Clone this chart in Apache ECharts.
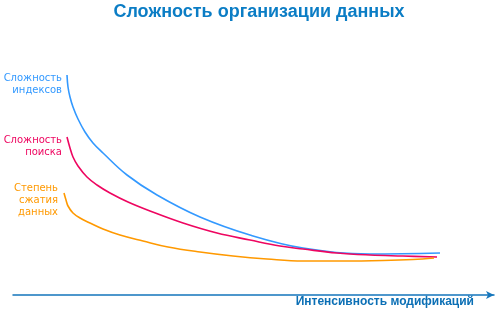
<!DOCTYPE html>
<html><head><meta charset="utf-8">
<script src="https://cdn.jsdelivr.net/npm/echarts@6/dist/echarts.min.js"></script>
<style>html,body{margin:0;padding:0;background:#fff}#c{width:502px;height:312px}</style>
</head><body><div id="c"></div>
<script>
// x: modification intensity (arbitrary units), y: complexity (arbitrary units)
var indexX = [54,55,57,60,65,72,80,90,114,144,187,237,290,357,427];
var indexY = [220,208,198,188,176,163,152,142,120,100,78,60,47,41,42];
var searchX = [54,57,60,65,74,84,97,115,137,170,204,237,267,290,324,357,390,424];
var searchY = [158,147,138,129,118,110,102,93,84,72,62,55,49,46,42,40,39,38];
var compX = [51,53,55,60,67,77,90,107,130,155,187,220,254,290,330,370,400,421];
var compY = [102,95,89,82,77,72,66,60,54,48,43,39,36,34,34,34.5,35.5,37];
var seriesNames = ['Сложность индексов','Сложность поиска','Степень сжатия данных'];
var labelLines = [['Сложность','индексов'],['Сложность','поиска'],['Степень','сжатия','данных']];
var titleText = 'Сложность организации данных';
var axisText = 'Интенсивность модификаций';

function zip(a,b){return a.map(function(v,i){return [v,b[i]];});}
var colors = ['#3399ff','#ee0660','#ff9900'];
var chart = echarts.init(document.getElementById('c'));
var labelPos = [[62,78],[62,140],[58,188]];
var graphics = [
  {type:'text',x:259,y:12,style:{text:titleText,font:'bold 18px "Liberation Sans", Arial',fill:'#0b7dc5',textAlign:'center',textVerticalAlign:'middle'}},
  {type:'text',x:474,y:302,style:{text:axisText,font:'bold 12px "Liberation Sans", Arial',fill:'#0b6fb5',textAlign:'right',textVerticalAlign:'middle'}}
];
labelLines.forEach(function(lines,i){
  lines.forEach(function(t,j){
    graphics.push({type:'text',x:labelPos[i][0],y:labelPos[i][1]+j*12.3,style:{text:t,font:'10px "DejaVu Sans"',fill:colors[i],textAlign:'right',textVerticalAlign:'middle'}});
  });
});
chart.setOption({
  animation:false,
  grid:{left:13,right:8,top:0,bottom:17},
  xAxis:{type:'value',min:0,max:481,
    axisLine:{show:true,symbol:['none','arrow'],symbolSize:[6,8],lineStyle:{color:'#1576bc',width:1.5}},
    axisTick:{show:false},axisLabel:{show:false},splitLine:{show:false}},
  yAxis:{type:'value',min:0,max:295,show:false,splitLine:{show:false}},
  graphic:graphics,
  series:[
    {name:seriesNames[0],type:'line',data:zip(indexX,indexY),smooth:0.4,showSymbol:false,lineStyle:{color:colors[0],width:1.6}},
    {name:seriesNames[1],type:'line',data:zip(searchX,searchY),smooth:0.4,showSymbol:false,lineStyle:{color:colors[1],width:1.6}},
    {name:seriesNames[2],type:'line',data:zip(compX,compY),smooth:0.4,showSymbol:false,lineStyle:{color:colors[2],width:1.6}}
  ]
});
</script></body></html>
